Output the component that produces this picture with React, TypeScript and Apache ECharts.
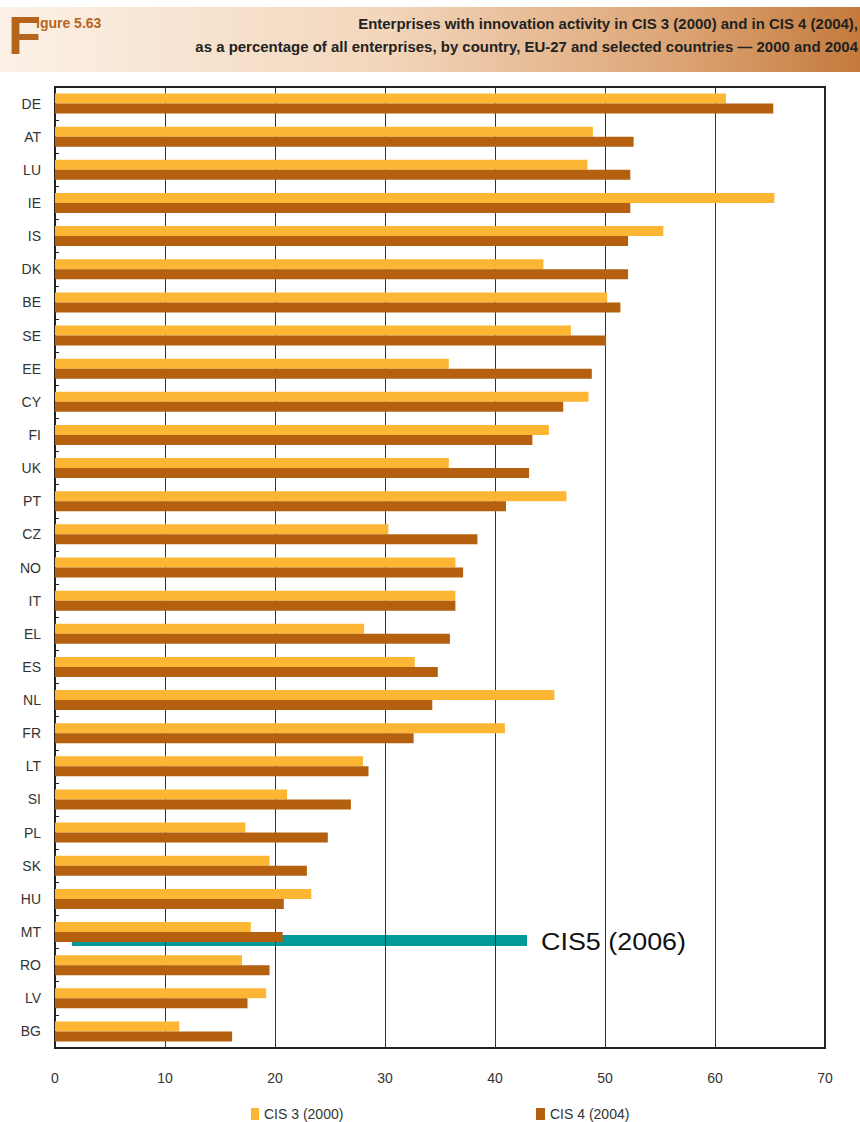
import React, { useEffect, useRef } from "react";
import * as echarts from "echarts";

const countries = ["DE","AT","LU","IE","IS","DK","BE","SE","EE","CY","FI","UK","PT","CZ","NO","IT","EL","ES","NL","FR","LT","SI","PL","SK","HU","MT","RO","LV","BG"];
const cis3 = [61.0,48.9,48.4,65.4,55.3,44.4,50.2,46.9,35.8,48.5,44.9,35.8,46.5,30.3,36.4,36.4,28.1,32.7,45.4,40.9,28.0,21.1,17.3,19.5,23.3,17.8,17.0,19.2,11.3];
const cis4 = [65.3,52.6,52.3,52.3,52.1,52.1,51.4,50.1,48.8,46.2,43.4,43.1,41.0,38.4,37.1,36.4,35.9,34.8,34.3,32.6,28.5,26.9,24.8,22.9,20.8,20.7,19.5,17.5,16.1];
const seriesNames = ["CIS 3 (2000)", "CIS 4 (2004)"];
const xTicks = { min: 0, max: 70, interval: 10 };

const YELLOW = "#FDB633";
const BROWN = "#B4600F";
const SANS = "'Liberation Sans', Arial, sans-serif";

export default function App() {
  const ref = useRef<HTMLDivElement>(null);
  useEffect(() => {
    if (!ref.current) return;
    const chart = echarts.init(ref.current, null, { renderer: "svg" });
    chart.setOption({
      animation: false,
      backgroundColor: "#ffffff",
      grid: {
        left: 55, right: 35, top: 87, bottom: 74,
        show: true, borderColor: "#222", borderWidth: 2, backgroundColor: "transparent",
      },
      legend: [
        {
          data: [seriesNames[0]], left: 251, top: 1106, padding: 0, itemWidth: 8, itemHeight: 12, itemGap: 3,
          icon: "rect", textStyle: { fontFamily: SANS, fontSize: 14, lineHeight: 16, color: "#333" },
        },
        {
          data: [seriesNames[1]], left: 536, top: 1106, padding: 0, itemWidth: 9, itemHeight: 12, itemGap: 3,
          icon: "rect", textStyle: { fontFamily: SANS, fontSize: 14, lineHeight: 16, color: "#333" },
        },
      ],
      xAxis: {
        type: "value", min: xTicks.min, max: xTicks.max, interval: xTicks.interval,
        axisLine: { show: false }, axisTick: { show: false },
        axisLabel: { margin: 23, fontFamily: SANS, fontSize: 14, color: "#333" },
        splitLine: { show: true, lineStyle: { color: "#333", width: 1 } },
      },
      yAxis: {
        type: "category", data: countries, inverse: true,
        axisLine: { show: true, lineStyle: { color: "#222", width: 2 } },
        axisTick: { show: true, inside: true, length: 4, lineStyle: { color: "#222" } },
        axisLabel: { margin: 14, fontFamily: SANS, fontSize: 14, color: "#333" },
      },
      series: [
        { name: seriesNames[0], type: "bar", data: cis3, barWidth: 10, barGap: "0%", itemStyle: { color: YELLOW } },
        { name: seriesNames[1], type: "bar", data: cis4, barWidth: 10, barGap: "0%", itemStyle: { color: BROWN } },
      ],
      graphic: [
        {
          type: "rect", left: 0, top: 7, silent: true,
          shape: { width: 860, height: 65 },
          style: {
            fill: new echarts.graphic.LinearGradient(0, 0, 1, 0, [
              { offset: 0, color: "#fbf1e7" },
              { offset: 0.45, color: "#f3d6bb" },
              { offset: 0.8, color: "#dba272" },
              { offset: 1, color: "#c47a3c" },
            ]),
          },
        },
        {
          type: "text", left: 8, top: 8,
          style: { text: "F", fontFamily: SANS, fontWeight: "bold", fontSize: 54, fill: "#b5651d" },
        },
        {
          type: "text", left: 36, top: 16,
          style: { text: "igure 5.63", fontFamily: SANS, fontWeight: "bold", fontSize: 14, fill: "#b5651d" },
        },
        {
          type: "text", x: 858, y: 24, scaleX: 1.07,
          style: { text: "Enterprises with innovation activity in CIS 3 (2000) and in CIS 4 (2004),", textAlign: "right", textVerticalAlign: "middle", fontFamily: SANS, fontWeight: "bold", fontSize: 14, fill: "#222" },
        },
        {
          type: "text", x: 858, y: 47, scaleX: 1.07,
          style: { text: "as a percentage of all enterprises, by country, EU-27 and selected countries \u2014 2000 and 2004", textAlign: "right", textVerticalAlign: "middle", fontFamily: SANS, fontWeight: "bold", fontSize: 14, fill: "#222" },
        },
        {
          type: "rect", left: 72, top: 935, silent: true,
          shape: { width: 455, height: 11 },
          style: { fill: "#009a98" },
        },
        {
          type: "text", x: 541, y: 942, scaleX: 1.17,
          style: { text: "CIS5 (2006)", textAlign: "left", textVerticalAlign: "middle", fontFamily: SANS, fontSize: 23, fill: "#111" },
        },
      ],
    });
    return () => chart.dispose();
  }, []);
  return <div ref={ref} style={{ position: "absolute", left: 0, top: 0, width: 860, height: 1122 }} />;
}
